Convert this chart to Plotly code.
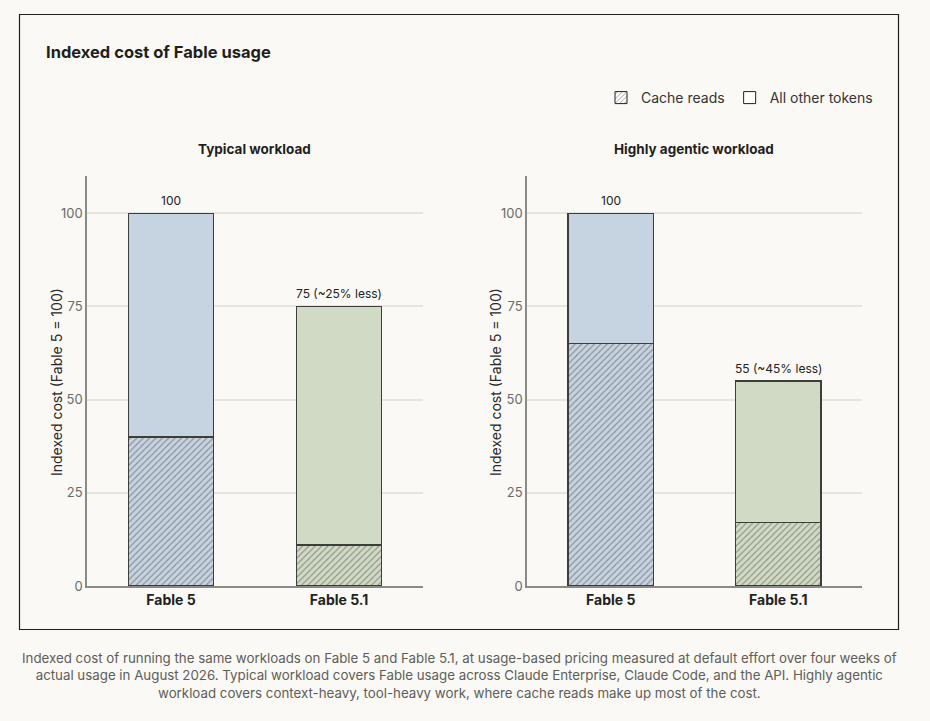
import plotly.graph_objects as go

categories = ["Fable 5", "Fable 5.1"]

typical_cache = [40, 11]
typical_other = [60, 64]
typical_total = [100, 75]
typical_labels = ["100", "75 (~25% less)"]

agentic_cache = [65, 17]
agentic_other = [35, 38]
agentic_total = [100, 55]
agentic_labels = ["100", "55 (~45% less)"]

panel_titles = ["Typical workload", "Highly agentic workload"]
y_ticks = [0, 25, 50, 75, 100]

BG = "#faf9f5"
BAR_COLORS = ["#c6d3e0", "#d0dac4"]
EDGE = "#3d3d3a"
FONT = "Inter"

W, H = 930, 721


def px_x(p):
    return p / W


def px_y(p):
    return 1 - p / H


fig = go.Figure()

panels = [
    (typical_cache, typical_other, typical_total, typical_labels, "x", "y"),
    (agentic_cache, agentic_other, agentic_total, agentic_labels, "x2", "y2"),
]

for cache, other, total, labels, xa, ya in panels:
    fig.add_trace(go.Bar(
        x=categories, y=cache, xaxis=xa, yaxis=ya, width=0.51,
        marker=dict(color=BAR_COLORS, line=dict(color=EDGE, width=1.2),
                    pattern=dict(shape="/", fgcolor="#222220", size=4.5, solidity=0.25)),
        showlegend=False, hoverinfo="skip",
    ))
    fig.add_trace(go.Bar(
        x=categories, y=other, xaxis=xa, yaxis=ya, width=0.51,
        marker=dict(color=BAR_COLORS, line=dict(color=EDGE, width=1.2)),
        showlegend=False, hoverinfo="skip",
    ))
    for c, t, lab in zip(categories, total, labels):
        fig.add_annotation(x=c, y=t, xref=xa, yref=ya, text=lab, showarrow=False,
                           yanchor="bottom", yshift=3,
                           font=dict(family=FONT, size=12, color="#222"))

# legend-only entries
fig.add_trace(go.Bar(
    x=[None], y=[None], name="Cache reads",
    marker=dict(color="white", line=dict(color="#222", width=1),
                pattern=dict(shape="/", fgcolor="#222", size=4, solidity=0.25)),
))
fig.add_trace(go.Bar(
    x=[None], y=[None], name="All other tokens",
    marker=dict(color="white", line=dict(color="#222", width=1)),
))

axis_common = dict(
    showline=True, linecolor="#8a8a86", linewidth=1.6,
    fixedrange=True, automargin=False,
)
fig.update_layout(
    width=W, height=H,
    paper_bgcolor=BG, plot_bgcolor=BG,
    margin=dict(l=0, r=0, t=0, b=0, autoexpand=False),
    barmode="stack",
    font=dict(family=FONT, color="#222"),
    showlegend=True,
    legend=dict(orientation="h", x=px_x(878), xanchor="right", y=px_y(98), yanchor="middle",
                font=dict(family=FONT, size=14, color="#333"), bgcolor="rgba(0,0,0,0)",
                itemwidth=30, traceorder="normal"),
    xaxis=dict(domain=[px_x(87), px_x(423)], anchor="y",
               tickfont=dict(family=FONT, size=14, color="#222", weight="bold"),
               ticks="", **axis_common),
    yaxis=dict(domain=[px_y(586), px_y(176)], anchor="x", range=[0, 110],
               tickvals=y_ticks, showgrid=True, gridcolor="#e6e4de", gridwidth=1.5,
               zeroline=False, tickfont=dict(family=FONT, size=13, color="#6b6b67"),
               ticks="", ticklabelstandoff=0, **axis_common),
    xaxis2=dict(domain=[px_x(527), px_x(862)], anchor="y2",
                tickfont=dict(family=FONT, size=14, color="#222", weight="bold"),
                ticks="", **axis_common),
    yaxis2=dict(domain=[px_y(586), px_y(176)], anchor="x2", range=[0, 110],
                tickvals=y_ticks, showgrid=True, gridcolor="#e6e4de", gridwidth=1.5,
                zeroline=False, tickfont=dict(family=FONT, size=13, color="#6b6b67"),
                ticks="", ticklabelstandoff=0, **axis_common),
)

# frame around chart
fig.add_shape(type="rect", xref="paper", yref="paper",
              x0=px_x(19.5), x1=px_x(898.5), y0=px_y(629.5), y1=px_y(14.5),
              line=dict(color="#1f1f1d", width=1.2), layer="below")

fig.add_annotation(x=px_x(44), y=px_y(52), xref="paper", yref="paper",
                   text="<b>Indexed cost of Fable usage</b>", showarrow=False,
                   xanchor="left", yanchor="middle",
                   font=dict(family=FONT, size=16.5, color="#1f1f1d"))

for title, cx in zip(panel_titles, [255, 694]):
    fig.add_annotation(x=px_x(cx), y=px_y(149), xref="paper", yref="paper",
                       text="<b>" + title + "</b>", showarrow=False,
                       xanchor="center", yanchor="middle",
                       font=dict(family=FONT, size=13.5, color="#1f1f1d"))

for cx in [56, 495]:
    fig.add_annotation(x=px_x(cx), y=px_y(382), xref="paper", yref="paper",
                       text="Indexed cost (Fable 5 = 100)", showarrow=False, textangle=-90,
                       xanchor="center", yanchor="middle",
                       font=dict(family=FONT, size=14, color="#2a2a28"))

caption = ("Indexed cost of running the same workloads on Fable 5 and Fable 5.1, at usage-based pricing measured at default effort over four weeks of<br>"
           "actual usage in August 2026. Typical workload covers Fable usage across Claude Enterprise, Claude Code, and the API. Highly agentic<br>"
           "workload covers context-heavy, tool-heavy work, where cache reads make up most of the cost.")
fig.add_annotation(x=px_x(459), y=px_y(675), xref="paper", yref="paper",
                   text=caption, showarrow=False, align="center",
                   xanchor="center", yanchor="middle",
                   font=dict(family=FONT, size=13.3, color="#5e5d59"))

page_fix = ("document.documentElement.style.overflow='hidden';"
            "document.body.style.margin='0';"
            "document.body.style.overflow='hidden';")
fig.write_html("out.html", config={"displayModeBar": False}, post_script=page_fix)
